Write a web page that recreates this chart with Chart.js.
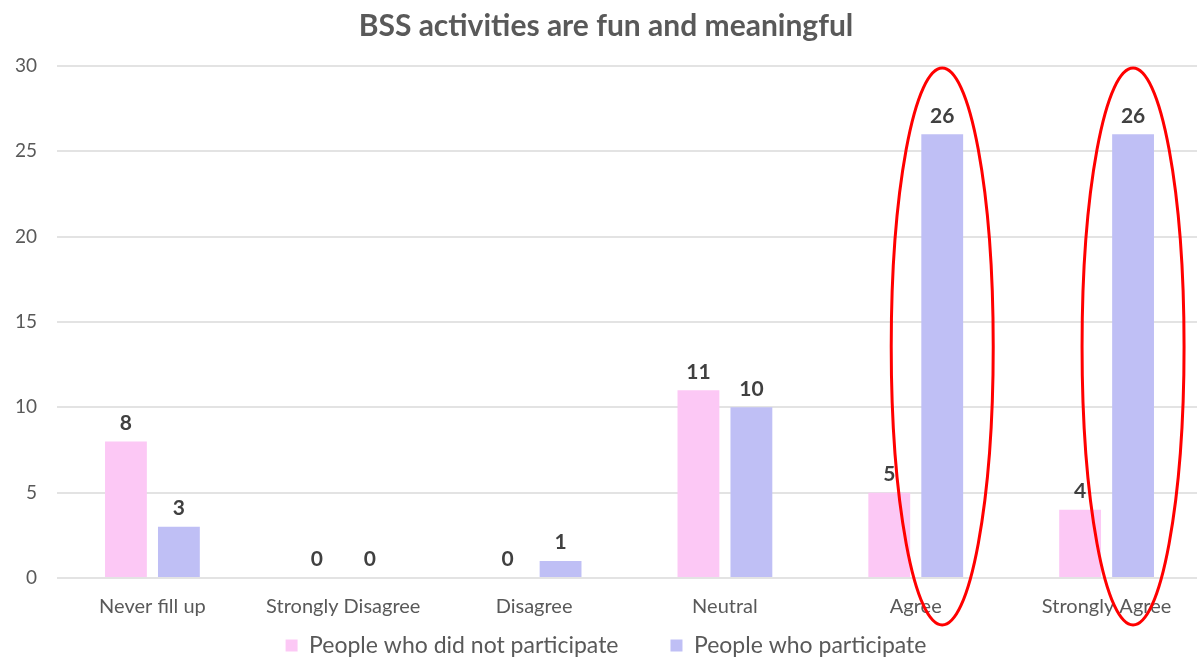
<!DOCTYPE html>
<html>
<head>
<meta charset="utf-8">
<script src="https://cdn.jsdelivr.net/npm/chart.js@4"></script>
<style>
  html, body { margin: 0; padding: 0; background: #fff; overflow: hidden; }
  #wrap { width: 1206px; height: 664px; }
</style>
</head>
<body>
<div id="wrap"><canvas id="myChart"></canvas></div>
<script>
const categories = ['Never fill up', 'Strongly Disagree', 'Disagree', 'Neutral', 'Agree', 'Strongly Agree'];
const notParticipated = [8, 0, 0, 11, 5, 4];
const participated = [3, 0, 1, 10, 26, 26];
const yTicks = [0, 5, 10, 15, 20, 25, 30];
// which categories get a red ring round the participant bar
const circled = ['Agree', 'Strongly Agree'];

const fontFamily = 'Lato, "Open Sans", sans-serif';

// number above each bar
const barLabels = {
    id: 'barLabels',
    afterDatasetsDraw(chart) {
        const ctx = chart.ctx;
        ctx.save();
        ctx.font = 'bold 21px ' + fontFamily;
        ctx.fillStyle = '#404040';
        ctx.textAlign = 'center';
        ctx.textBaseline = 'bottom';
        chart.data.datasets.forEach((ds, i) => {
            chart.getDatasetMeta(i).data.forEach((bar, j) => {
                ctx.fillText(String(ds.data[j]), bar.x, bar.y - 8);
            });
        });
        ctx.restore();
    }
};

// red ellipses
const rings = {
    id: 'rings',
    afterDraw(chart) {
        const ctx = chart.ctx;
        const y = chart.scales.y;
        const meta = chart.getDatasetMeta(1);
        const top = y.getPixelForValue(30) + 2;
        const bottom = y.bottom + 47;
        ctx.save();
        ctx.strokeStyle = '#ff0000';
        ctx.lineWidth = 3;
        circled.forEach(name => {
            const bar = meta.data[categories.indexOf(name)];
            ctx.beginPath();
            ctx.ellipse(bar.x, (top + bottom) / 2, 51, (bottom - top) / 2, 0, 0, Math.PI * 2);
            ctx.stroke();
        });
        ctx.restore();
    }
};

const ctx = document.getElementById('myChart').getContext('2d');
const myChart = new Chart(ctx, {
    type: 'bar',
    data: {
        labels: categories,
        datasets: [{
            label: 'People who did not participate',
            data: notParticipated,
            backgroundColor: '#fcc8f5'
        }, {
            label: 'People who participate',
            data: participated,
            backgroundColor: '#bfbff5'
        }]
    },
    options: {
        responsive: true,
        maintainAspectRatio: false,
        animation: false,
        categoryPercentage: 0.555,
        barPercentage: 0.79,
        layout: { padding: { left: 10, right: 4, top: 6, bottom: -3 } },
        plugins: {
            title: {
                display: true,
                text: 'BSS activities are fun and meaningful',
                color: '#595959',
                font: { family: fontFamily, size: 30, weight: 'bold' },
                padding: { top: 2, bottom: 22 }
            },
            legend: {
                position: 'bottom',
                labels: {
                    color: '#595959',
                    font: { family: fontFamily, size: 23 },
                    boxWidth: 12,
                    boxHeight: 12,
                    padding: 52
                }
            },
            tooltip: { enabled: false }
        },
        scales: {
            x: {
                // x labels overlap the legend's top padding, mirror keeps them from being clipped
                afterFit(scale) { scale.height = 4; },
                grid: { display: false, drawTicks: false },
                border: { display: false },
                ticks: {
                    color: '#595959',
                    font: { family: fontFamily, size: 20 },
                    mirror: true,
                    padding: -41
                }
            },
            y: {
                min: 0,
                max: 30,
                afterFit(scale) { scale.width = 47; },
                afterBuildTicks(scale) { scale.ticks = yTicks.map(v => ({ value: v })); },
                grid: { color: '#e3e3e3', lineWidth: 2, drawTicks: false },
                border: { display: false },
                ticks: {
                    color: '#595959',
                    font: { family: fontFamily, size: 19 },
                    padding: 20
                }
            }
        }
    },
    plugins: [barLabels, rings]
});
</script>
</body>
</html>
